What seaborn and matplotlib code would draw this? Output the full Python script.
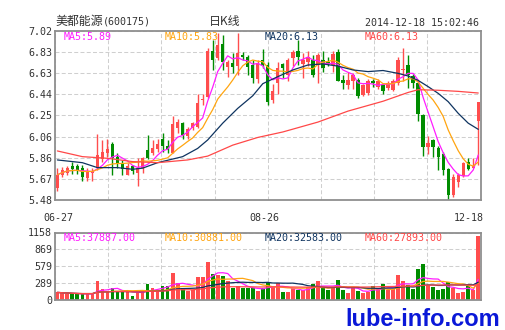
import numpy as np
import pandas as pd
import matplotlib
matplotlib.use("Agg")
import matplotlib.pyplot as plt
import matplotlib.transforms as mtrans
import seaborn as sns

# ---------------- data ----------------
stock_name = "美都能源"
stock_code = "(600175)"
chart_kind = "日K线"
timestamp = "2014-12-18 15:02:46"

date_labels = ["06-27", "08-26", "12-18"]
date_index = [0, 41, 84]

opens = [5.59, 5.71, 5.73, 5.79, 5.79, 5.77, 5.68, 5.73, 5.77, 5.85,
         5.905, 5.987, 5.87, 5.81, 5.71, 5.79, 5.73, 5.775, 5.936, 5.905,
         5.945, 6.036, 5.97, 5.91, 6.133, 6.18, 6.063, 6.133, 6.148, 6.39,
         6.42, 6.838, 6.77, 6.90, 6.69, 6.725, 6.70, 6.80, 6.786, 6.71,
         6.58, 6.755, 6.71, 6.39, 6.55, 6.72, 6.62, 6.77, 6.838, 6.72,
         6.737, 6.76, 6.713, 6.76, 6.74, 6.713, 6.83, 6.576, 6.53, 6.561,
         6.576, 6.44, 6.455, 6.567, 6.507, 6.525, 6.50, 6.485, 6.546, 6.667,
         6.713, 6.607, 6.546, 6.25, 5.96, 6.027, 5.957, 5.90, 5.76, 5.526,
         5.645, 5.699, 5.829, 5.775, 6.203]
highs = [5.77, 5.78, 5.79, 5.83, 5.81, 5.80, 5.77, 5.77, 6.08, 6.03,
         6.04, 6.012, 5.905, 5.845, 5.815, 5.80, 5.86, 5.875, 6.07, 6.03,
         6.04, 6.09, 6.03, 6.245, 6.215, 6.194, 6.148, 6.194, 6.45, 6.45,
         6.862, 6.94, 7.0, 6.98, 6.755, 6.816, 7.0, 6.83, 6.80, 6.755,
         6.755, 6.86, 6.74, 6.54, 6.74, 6.73, 6.77, 6.85, 6.938, 6.82,
         6.84, 6.80, 6.82, 6.84, 6.78, 6.84, 6.86, 6.62, 6.65, 6.64,
         6.59, 6.54, 6.58, 6.58, 6.58, 6.54, 6.56, 6.58, 6.78, 6.865,
         6.80, 6.625, 6.56, 6.26, 6.06, 6.04, 5.97, 5.92, 5.77, 5.72,
         5.725, 5.83, 5.86, 5.86, 6.376]
lows = [5.565, 5.69, 5.71, 5.72, 5.72, 5.65, 5.65, 5.65, 5.75, 5.83,
        5.875, 5.708, 5.77, 5.71, 5.705, 5.72, 5.61, 5.73, 5.85, 5.89,
        5.92, 5.92, 5.905, 5.905, 6.088, 6.04, 6.04, 6.118, 6.133, 6.345,
        6.41, 6.665, 6.755, 6.665, 6.604, 6.634, 6.62, 6.755, 6.62, 6.55,
        6.55, 6.68, 6.35, 6.36, 6.45, 6.59, 6.56, 6.70, 6.71, 6.59,
        6.70, 6.60, 6.55, 6.65, 6.70, 6.65, 6.56, 6.49, 6.49, 6.49,
        6.41, 6.43, 6.44, 6.51, 6.49, 6.45, 6.48, 6.47, 6.53, 6.561,
        6.50, 6.50, 6.203, 5.88, 5.90, 5.875, 5.75, 5.71, 5.48, 5.51,
        5.60, 5.69, 5.75, 5.77, 5.80]
closes = [5.71, 5.75, 5.775, 5.76, 5.755, 5.69, 5.74, 5.745, 5.89, 5.915,
          5.945, 5.866, 5.82, 5.76, 5.79, 5.74, 5.775, 5.86, 5.86, 5.957,
          5.99, 5.972, 5.935, 6.17, 6.194, 6.07, 6.124, 6.18, 6.367, 6.395,
          6.838, 6.76, 6.892, 6.74, 6.74, 6.695, 6.82, 6.786, 6.695, 6.59,
          6.73, 6.71, 6.376, 6.47, 6.68, 6.68, 6.756, 6.83, 6.786, 6.76,
          6.78, 6.622, 6.80, 6.683, 6.72, 6.81, 6.567, 6.546, 6.576, 6.622,
          6.424, 6.53, 6.561, 6.546, 6.561, 6.47, 6.546, 6.567, 6.759, 6.676,
          6.622, 6.546, 6.264, 5.966, 6.0, 5.96, 5.875, 5.754, 5.526, 5.693,
          5.708, 5.814, 5.76, 5.793, 6.376]
volumes = [130, 120, 110, 100, 100, 100, 110, 110, 327, 184,
           143, 200, 143, 143, 155, 69, 143, 132, 275, 200,
           155, 241, 241, 465, 287, 200, 155, 172, 396, 396,
           654, 447, 430, 413, 327, 212, 241, 200, 200, 200,
           155, 200, 315, 229, 287, 143, 143, 200, 172, 172,
           218, 275, 333, 200, 172, 218, 344, 172, 126, 200,
           160, 115, 143, 247, 200, 275, 172, 183, 430, 333,
           258, 183, 528, 620, 258, 218, 172, 183, 315, 200,
           115, 143, 241, 172, 1101]

ma20_idx = [0, 5, 8, 12, 15, 17, 20, 25, 28, 30, 33, 36, 39, 41, 44, 47,
            50, 53, 56, 59, 62, 65, 68, 70, 72, 74, 76, 78, 80, 82, 84]
ma20_val = [5.845, 5.82, 5.775, 5.775, 5.76, 5.77, 5.82, 5.875, 5.95, 6.027,
            6.18, 6.315, 6.43, 6.54, 6.604, 6.665, 6.71, 6.72, 6.70, 6.665,
            6.65, 6.66, 6.634, 6.61, 6.57, 6.513, 6.452, 6.376, 6.27, 6.18, 6.124]
ma60_idx = [0, 5, 10, 15, 20, 26, 30, 35, 40, 45, 52, 58, 65, 70, 72, 76, 80, 84]
ma60_val = [5.927, 5.875, 5.86, 5.83, 5.82, 5.845, 5.88, 5.98, 6.05, 6.10,
            6.19, 6.29, 6.38, 6.46, 6.485, 6.48, 6.47, 6.455]

price_ticks = ["5.48", "5.67", "5.86", "6.06", "6.25", "6.44", "6.63", "6.83", "7.02"]
vol_ticks = ["0", "289", "579", "869", "1158"]
price_ma_labels = ["MA5:5.89", "MA10:5.83", "MA20:6.13", "MA60:6.13"]
vol_ma_labels = ["MA5:37887.00", "MA10:30881.00", "MA20:32583.00", "MA60:27893.00"]
watermark = "lube-info.com"

# ---------------- style ----------------
RED = "#FF4D4D"
GREEN = "#008C00"
MA_COLORS = ["#FF1CFF", "#FFA510", "#0F3460", "#FF4848"]
GRID = "#CFCFCF"
SPINE = "#8F8F8F"
TXT = "#333333"

sns.set_theme(style="white")
plt.rcParams['font.family'] = ['DejaVu Sans Mono']

W, H = 505, 330
fig = plt.figure(figsize=(W / 100, H / 100), dpi=100)
fig.patch.set_facecolor("white")

L, R = 55, 480.5
ax = fig.add_axes([L / W, 1 - 200 / H, (R - L) / W, 169 / H])
axv = fig.add_axes([L / W, 1 - 300 / H, (R - L) / W, 67.5 / H])

n = len(closes)
df = pd.DataFrame(dict(x=np.arange(n), o=opens, h=highs, l=lows, c=closes, v=volumes))
df["dir"] = np.where(df.c >= df.o, "up", "down")
cols = np.where(df.c >= df.o, RED, GREEN)

XLO, XHI = -0.47, n - 1 + 0.45
ygrid = np.linspace(5.48, 7.02, len(price_ticks))
vgrid = np.linspace(0, 1158, len(vol_ticks))
xgrid = np.linspace(XLO, XHI, 9)

for a in (ax, axv):
    a.set_facecolor("white")
    a.set_xticks(xgrid)
    a.set_xticklabels([])
    for s in a.spines.values():
        s.set_color(SPINE)
        s.set_linewidth(1.3)
    a.tick_params(length=0, pad=2.2, labelsize=7.2, labelcolor=TXT)
    a.grid(True, color=GRID, lw=0.75, ls=(0, (3.8, 2.2)))
    a.set_axisbelow(True)

# ---- candles ----
ax.vlines(df.x, df.l, df.h, colors=cols, lw=1.0, zorder=2)
body_lo = np.minimum(df.o, df.c)
body_h = np.maximum(np.abs(df.c - df.o), 0.007)
ax.bar(df.x, body_h, bottom=body_lo, width=0.66, color=cols, linewidth=0, zorder=3)

df["ma5"] = df.c.rolling(5, min_periods=1).mean()
df["ma10"] = df.c.rolling(10, min_periods=1).mean()
sns.lineplot(x=df.x, y=df.ma5, ax=ax, color=MA_COLORS[0], lw=0.9, zorder=4)
sns.lineplot(x=df.x, y=df.ma10, ax=ax, color=MA_COLORS[1], lw=0.9, zorder=4)
sns.lineplot(x=ma20_idx, y=ma20_val, ax=ax, color=MA_COLORS[2], lw=0.9, zorder=4)
sns.lineplot(x=ma60_idx, y=ma60_val, ax=ax, color=MA_COLORS[3], lw=0.9, zorder=4)

ax.set_xlim(XLO, XHI)
ax.set_ylim(5.48, 7.02)
ax.set_yticks(ygrid)
ax.set_yticklabels(price_ticks)
ax.set_xlabel("")
ax.set_ylabel("")

# ---- volume ----
sns.barplot(data=df, x="x", y="v", hue="dir", palette={"up": RED, "down": GREEN},
            dodge=False, native_scale=True, width=0.76, saturation=1,
            errorbar=None, legend=False, linewidth=0, ax=axv, zorder=2)
for k, w in enumerate([5, 10, 20, 60]):
    m = df.v.rolling(w, min_periods=1).mean()
    sns.lineplot(x=df.x, y=m, ax=axv, color=MA_COLORS[k], lw=0.9, zorder=4)
axv.set_xlim(XLO, XHI)
axv.set_ylim(0, 1158)
axv.set_xticks(xgrid)
axv.set_xticklabels([])
axv.set_yticks(vgrid)
axv.set_yticklabels(vol_ticks)
axv.set_xlabel("")
axv.set_ylabel("")

# ---- texts ----
fig.text(55 / W, 1 - 25 / H, stock_name, family=['Noto Sans CJK SC', 'DejaVu Sans'],
         fontsize=8.6, color=TXT, va="baseline", ha="left")
fig.text(103 / W, 1 - 25 / H, stock_code, fontsize=7.2, color=TXT, va="baseline", ha="left")
fig.text(225 / W, 1 - 25 / H, chart_kind, family=['Noto Sans CJK SC', 'DejaVu Sans'],
         fontsize=8.6, color=TXT, va="baseline", ha="center")
fig.text(479 / W, 1 - 26 / H, timestamp, fontsize=7.2, color=TXT, va="baseline", ha="right")

lab_x = [64, 165, 265, 365]
for k in range(4):
    fig.text(lab_x[k] / W, 1 - 40 / H, price_ma_labels[k], fontsize=7.2,
             color=MA_COLORS[k], va="baseline", ha="left")
    fig.text(lab_x[k] / W, 1 - 241 / H, vol_ma_labels[k], fontsize=7.2,
             color=MA_COLORS[k], va="baseline", ha="left")

tr = mtrans.blended_transform_factory(ax.transData, fig.transFigure)
shifts = [0.3, 0.3, 1.1]
has = ["center", "center", "right"]
for lbl, idx, sh, ha in zip(date_labels, date_index, shifts, has):
    ax.text(idx + sh, 1 - 221 / H, lbl, transform=tr, fontsize=7.2, color=TXT,
            ha=ha, va="baseline", clip_on=False)

fig.text(500 / W, 1 - 325.5 / H, watermark, family=['Liberation Sans', 'DejaVu Sans'],
         fontweight="bold", fontsize=17, color="#0A18D8", ha="right", va="baseline")

fig.savefig("out.png", dpi=100, facecolor="white")
